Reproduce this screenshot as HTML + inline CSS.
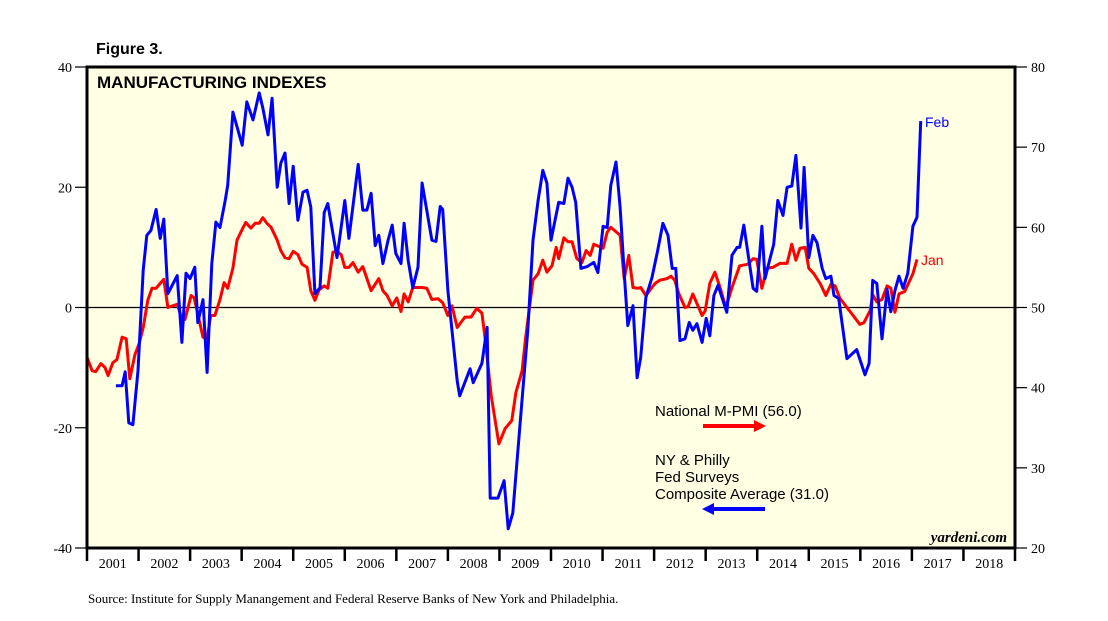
<!DOCTYPE html>
<html><head><meta charset="utf-8"><style>
body{margin:0;background:#fff;}
svg{display:block;}
</style></head><body>
<svg id="chart" width="1108" height="621" viewBox="0 0 1108 621" xmlns="http://www.w3.org/2000/svg">
<text x="96" y="54" font-family="Liberation Sans, sans-serif" font-weight="bold" font-size="16" fill="#000">Figure 3.</text>
<rect x="87" y="67" width="928" height="481" fill="#ffffe3"/>
<g id="axes"></g>
<g id="series"></g>
<rect x="87" y="67" width="928" height="481" fill="none" stroke="#000" stroke-width="3"/>
<text x="97" y="88" font-family="Liberation Sans, sans-serif" font-weight="bold" font-size="17" fill="#000">MANUFACTURING INDEXES</text>
<text x="925" y="127" font-family="Liberation Sans, sans-serif" font-size="14" fill="#0000ff">Feb</text>
<text x="921" y="265" font-family="Liberation Sans, sans-serif" font-size="14" fill="#ff0000">Jan</text>
<text x="655" y="416" font-family="Liberation Sans, sans-serif" font-size="15" fill="#000">National M-PMI (56.0)</text>
<g><line x1="703" y1="426" x2="756" y2="426" stroke="#ff0000" stroke-width="4"/><polygon points="754,420 766,426 754,432" fill="#ff0000"/></g>
<text font-family="Liberation Sans, sans-serif" font-size="15" fill="#000"><tspan x="655" y="465">NY &amp; Philly</tspan><tspan x="655" y="482">Fed Surveys</tspan><tspan x="655" y="499">Composite Average (31.0)</tspan></text>
<g><line x1="712" y1="509" x2="765" y2="509" stroke="#0000ff" stroke-width="4"/><polygon points="714,503 702,509 714,515" fill="#0000ff"/></g>
<text x="1007" y="542" text-anchor="end" font-family="Liberation Serif, serif" font-style="italic" font-weight="bold" font-size="15" fill="#000">yardeni.com</text>
<text x="88" y="603" font-family="Liberation Serif, serif" font-size="13" fill="#000">Source: Institute for Supply Manangement and Federal Reserve Banks of New York and Philadelphia.</text>
</svg>
<script>
const leftTicks=[40,20,0,-20,-40];
const rightTicks=[80,70,60,50,40,30,20];
const yearLabels=[2001,2002,2003,2004,2005,2006,2007,2008,2009,2010,2011,2012,2013,2014,2015,2016,2017,2018];
const fedDates=[2001.56,2001.68,2001.74,2001.81,2001.89,2001.99,2002.09,2002.16,2002.24,2002.34,2002.42,2002.49,2002.57,2002.75,2002.84,2002.92,2003.00,2003.09,2003.15,2003.25,2003.33,2003.42,2003.50,2003.58,2003.68,2003.73,2003.83,2004.01,2004.10,2004.22,2004.34,2004.41,2004.51,2004.59,2004.69,2004.76,2004.84,2004.92,2005.00,2005.09,2005.19,2005.27,2005.34,2005.42,2005.52,2005.60,2005.67,2005.85,2006.00,2006.08,2006.26,2006.35,2006.43,2006.51,2006.59,2006.66,2006.74,2006.84,2006.92,2006.99,2007.09,2007.15,2007.23,2007.32,2007.42,2007.50,2007.69,2007.77,2007.85,2007.90,2008.00,2008.18,2008.23,2008.43,2008.49,2008.66,2008.76,2008.82,2008.97,2009.09,2009.17,2009.26,2009.40,2009.55,2009.65,2009.75,2009.84,2009.92,2010.00,2010.15,2010.25,2010.33,2010.41,2010.48,2010.58,2010.70,2010.83,2010.91,2011.01,2011.09,2011.16,2011.26,2011.34,2011.43,2011.49,2011.59,2011.67,2011.74,2011.84,2011.96,2012.07,2012.17,2012.27,2012.35,2012.42,2012.50,2012.60,2012.68,2012.75,2012.83,2012.93,2013.01,2013.08,2013.16,2013.24,2013.41,2013.51,2013.61,2013.66,2013.74,2013.92,2013.99,2014.09,2014.15,2014.25,2014.32,2014.40,2014.50,2014.58,2014.67,2014.75,2014.85,2014.91,2015.00,2015.08,2015.16,2015.26,2015.33,2015.43,2015.49,2015.58,2015.74,2015.93,2016.09,2016.17,2016.24,2016.32,2016.42,2016.52,2016.59,2016.67,2016.75,2016.83,2016.92,2017.02,2017.10,2017.17];
const fedValues=[-13.0,-13.0,-10.7,-19.2,-19.5,-10.5,6.2,12.0,12.8,16.3,11.5,14.7,2.3,5.3,-5.8,5.7,4.8,6.7,-2.5,1.3,-10.8,7.3,14.2,13.3,17.8,20.3,32.5,27.0,34.2,31.2,35.7,33.2,28.7,34.8,20.0,24.0,25.7,17.3,23.5,14.5,19.2,19.5,16.7,2.3,3.3,15.8,17.3,8.3,17.8,11.5,23.8,16.2,16.2,19.0,10.3,12.0,7.3,11.2,13.7,9.0,7.3,14.0,7.8,3.3,6.7,20.7,11.2,11.0,16.8,16.3,2.8,-12.2,-14.7,-10.2,-12.5,-9.3,-3.3,-31.7,-31.7,-28.8,-36.8,-34.2,-19.3,-3.8,11.2,17.8,22.8,20.7,11.2,17.5,17.3,21.5,20.0,17.5,6.5,6.8,7.5,5.8,13.5,13.3,20.3,24.2,16.7,4.5,-3.0,0.3,-11.7,-8.3,1.7,5.0,9.5,14.0,12.0,6.5,6.5,-5.5,-5.2,-2.5,-3.8,-2.7,-5.8,-1.8,-4.7,2.0,3.7,-0.8,8.7,10.0,10.0,13.7,3.2,2.7,13.5,4.8,8.2,10.5,17.8,15.3,20.0,20.2,25.3,13.2,23.3,8.3,12.0,10.8,6.5,4.8,5.2,2.0,1.5,-8.5,-7.0,-11.2,-9.3,4.5,4.0,-5.2,3.0,-0.7,2.8,5.2,3.2,5.7,13.5,15.0,31.0];
const pmiDates=[2001.00,2001.10,2001.17,2001.27,2001.35,2001.41,2001.50,2001.58,2001.68,2001.76,2001.83,2001.93,2002.01,2002.09,2002.18,2002.26,2002.34,2002.42,2002.49,2002.57,2002.75,2002.82,2002.90,2003.02,2003.08,2003.19,2003.25,2003.33,2003.40,2003.48,2003.58,2003.66,2003.73,2003.83,2003.91,2004.03,2004.08,2004.18,2004.26,2004.34,2004.41,2004.49,2004.57,2004.69,2004.76,2004.84,2004.92,2005.00,2005.09,2005.17,2005.27,2005.34,2005.42,2005.50,2005.60,2005.67,2005.77,2005.85,2005.93,2006.00,2006.08,2006.16,2006.26,2006.35,2006.51,2006.66,2006.74,2006.82,2006.92,2007.01,2007.09,2007.15,2007.23,2007.32,2007.50,2007.59,2007.69,2007.81,2007.90,2008.00,2008.08,2008.18,2008.33,2008.45,2008.56,2008.66,2008.72,2008.84,2008.99,2009.11,2009.24,2009.32,2009.44,2009.51,2009.65,2009.75,2009.84,2009.92,2010.02,2010.10,2010.15,2010.25,2010.33,2010.41,2010.50,2010.60,2010.68,2010.76,2010.83,2011.01,2011.09,2011.16,2011.34,2011.42,2011.51,2011.59,2011.69,2011.74,2011.84,2012.02,2012.11,2012.25,2012.33,2012.40,2012.48,2012.60,2012.66,2012.75,2012.93,2012.99,2013.08,2013.18,2013.28,2013.39,2013.51,2013.66,2013.82,2013.92,2013.99,2014.09,2014.19,2014.30,2014.44,2014.58,2014.67,2014.75,2014.83,2014.93,2015.00,2015.10,2015.22,2015.33,2015.43,2015.51,2015.60,2015.74,2015.86,2015.99,2016.07,2016.19,2016.24,2016.32,2016.42,2016.52,2016.59,2016.67,2016.75,2016.86,2016.94,2017.02,2017.10];
const pmiValues=[43.8,42.1,42.0,43.0,42.5,41.5,43.1,43.5,46.3,46.1,41.1,44.1,45.5,47.5,50.9,52.4,52.4,53.0,53.5,50.0,50.4,49.0,48.5,51.5,51.2,48.0,46.3,46.1,49.0,49.0,51.0,53.1,52.4,54.9,58.4,60.0,60.6,59.9,60.5,60.5,61.2,60.5,60.0,58.4,57.1,56.2,56.1,57.0,56.6,55.4,55.0,52.1,50.9,52.2,52.7,52.4,56.9,57.0,56.6,55.0,55.0,55.6,54.4,55.1,52.1,53.6,52.1,51.5,50.2,51.2,49.5,51.7,50.7,52.5,52.5,52.4,51.0,51.1,50.6,49.0,50.2,47.5,48.8,48.8,49.9,49.3,46.3,39.0,33.0,34.9,35.9,39.4,42.1,46.3,53.4,54.2,55.9,54.4,55.2,57.5,56.1,58.7,58.2,58.2,56.1,55.6,57.1,56.5,57.9,57.4,59.4,60.0,59.0,53.6,56.5,52.5,52.4,52.5,51.5,53.0,53.4,53.6,53.9,53.4,51.7,50.0,50.1,51.7,49.0,49.6,53.0,54.4,52.5,50.0,52.5,55.2,55.4,56.1,56.0,52.4,54.9,55.0,55.5,55.5,57.9,55.9,57.4,57.5,54.9,54.2,53.0,51.5,52.9,52.7,51.2,50.0,49.0,47.9,48.1,49.6,51.6,50.7,51.0,52.7,52.4,49.4,51.7,52.0,53.1,54.2,56.0];

const X0=87,X1=1015,Y0=67,Y1=548,T0=2001,T1=2019;
const NS='http://www.w3.org/2000/svg';
function xs(t){return X0+(t-T0)/(T1-T0)*(X1-X0);}
function yl(v){return Y1-(v+40)/80*(Y1-Y0);}
function yr(v){return Y1-(v-20)/60*(Y1-Y0);}
function mk(tag,attrs,parent,text){const e=document.createElementNS(NS,tag);for(const k in attrs)e.setAttribute(k,attrs[k]);if(text!==undefined)e.textContent=text;parent.appendChild(e);return e;}
const axes=document.getElementById('axes'),series=document.getElementById('series');
const serif='Liberation Serif, serif';
leftTicks.forEach(v=>{
  const y=yl(v);
  const t=mk('line',{x1:75,x2:87,y1:y,y2:y,stroke:'#000','stroke-width':1.2},axes);
  
  
  const l=mk('text',{x:72,y:y+5,'text-anchor':'end','font-family':serif,'font-size':14},axes,String(v));
  
  
});
rightTicks.forEach(v=>{
  const y=yr(v);
  const t=mk('line',{x1:1015,x2:1027,y1:y,y2:y,stroke:'#000','stroke-width':1.2},axes);
  
  
  const l=mk('text',{x:1031,y:y+5,'font-family':serif,'font-size':14},axes,String(v));
  
  
});
const z=mk('line',{x1:X0,x2:X1,y1:yl(0),y2:yl(0),stroke:'#000','stroke-width':1.2},axes);


yearLabels.forEach(yv=>{
  const x=xs(yv);
  const t=mk('line',{x1:x,x2:x,y1:Y1,y2:Y1+13,stroke:'#000','stroke-width':2.5},axes);
  
  
  const l=mk('text',{x:xs(yv+0.5),y:568,'text-anchor':'middle','font-family':serif,'font-size':14},axes,String(yv));
  
  
});
const et=mk('line',{x1:X1,x2:X1,y1:Y1,y2:Y1+13,stroke:'#000','stroke-width':2.5},axes);


function pathFrom(d,v,f){return d.map((t,i)=>(i?'L':'M')+xs(t).toFixed(1)+','+f(v[i]).toFixed(1)).join(' ');}
const red=mk('path',{d:pathFrom(pmiDates,pmiValues,yr),fill:'none',stroke:'#ff0000','stroke-width':3,'stroke-linejoin':'round'},series);


const blue=mk('path',{d:pathFrom(fedDates,fedValues,yl),fill:'none',stroke:'#0000ff','stroke-width':3,'stroke-linejoin':'round'},series);


</script>
</body></html>
